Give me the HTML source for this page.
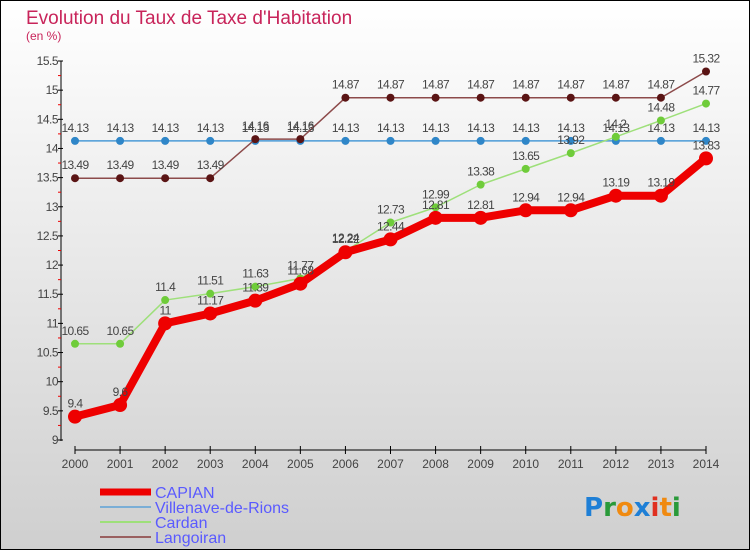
<!DOCTYPE html>
<html><head><meta charset="utf-8"><style>
body{margin:0}
#c{width:750px;height:550px;position:relative;box-sizing:border-box;border:1px solid #000;background:linear-gradient(#ffffff,#cfcfcf);font-family:"Liberation Sans",sans-serif;overflow:hidden}
</style></head><body>
<div id="c">
<svg id="s" width="750" height="550" style="position:absolute;left:-1px;top:-1px">
<text x="26" y="24" font-size="19" fill="#c8245a">Evolution du Taux de Taxe d'Habitation</text>
<text x="26" y="40" font-size="12" fill="#c8245a">(en %)</text>
<g id="axes"></g><g id="series"></g><g id="legend"></g>
<text x="584" y="516" font-size="26" font-weight="bold" font-family="'DejaVu Sans',sans-serif"><tspan fill="#1e7fd6">P</tspan><tspan fill="#2a9a3a">r</tspan><tspan fill="#f08a10">o</tspan><tspan fill="#1e7fd6">x</tspan><tspan fill="#e03020">i</tspan><tspan fill="#f08a10">t</tspan><tspan fill="#2a9a3a">i</tspan></text>
</svg></div>
<script>
const years=[2000,2001,2002,2003,2004,2005,2006,2007,2008,2009,2010,2011,2012,2013,2014];
const capian=[9.4,9.6,11,11.17,11.39,11.68,12.22,12.44,12.81,12.81,12.94,12.94,13.19,13.19,13.83];
const villenave=[14.13,14.13,14.13,14.13,14.13,14.13,14.13,14.13,14.13,14.13,14.13,14.13,14.13,14.13,14.13];
const cardan=[10.65,10.65,11.4,11.51,11.63,11.77,12.24,12.73,12.99,13.38,13.65,13.92,14.2,14.48,14.77];
const langoiran=[13.49,13.49,13.49,13.49,14.16,14.16,14.87,14.87,14.87,14.87,14.87,14.87,14.87,14.87,15.32];
const yTicks=[9,9.5,10,10.5,11,11.5,12,12.5,13,13.5,14,14.5,15,15.5];
const NS="http://www.w3.org/2000/svg";
function X(i){return 75+i*(706-75)/(years.length-1);}
function Y(v){return 440-(v-9)*(379/6.5);}
function mk(p,t,a){const e=document.createElementNS(NS,t);for(const k in a)e.setAttribute(k,a[k]);p.appendChild(e);return e;}
const ax=document.getElementById('axes');
let l=mk(ax,'line',{x1:61,y1:61,x2:61,y2:441,stroke:'#000'});


l=mk(ax,'line',{x1:75,y1:450,x2:706,y2:450,stroke:'#000'});


yTicks.forEach(v=>{
 mk(ax,'line',{x1:58,y1:Y(v),x2:63,y2:Y(v),stroke:'#000'});
 if(v<15.5)mk(ax,'line',{x1:58,y1:Y(v+0.25),x2:61,y2:Y(v+0.25),stroke:'#e00'});
 const t=mk(ax,'text',{x:58,y:Y(v)+4,'font-size':12,fill:'#444','text-anchor':'end','letter-spacing':'-0.5'});t.textContent=String(v);
 
 
});
years.forEach((y,i)=>{
 mk(ax,'line',{x1:X(i),y1:446,x2:X(i),y2:454,stroke:'#000'});
 const t=mk(ax,'text',{x:X(i),y:468,'font-size':12,fill:'#444','text-anchor':'middle'});t.textContent=y;
 
 
});
const sg=document.getElementById('series');
function series(name,vals,col,w,r,dot){
 const g=mk(sg,'g',{});
 
 
 mk(g,'polyline',{points:vals.map((v,i)=>X(i)+','+Y(v)).join(' '),fill:'none',stroke:col,'stroke-width':w,'stroke-linejoin':'round'});
 vals.forEach((v,i)=>{
  const c=mk(g,'circle',{cx:X(i),cy:Y(v),r:r,fill:dot});
  
  
  const t=mk(g,'text',{x:X(i),y:Y(v)-9,'font-size':12,fill:'#444','text-anchor':'middle','letter-spacing':'-0.6'});t.textContent=String(v);
  
  
 });
}
series('villenave',villenave,'#4a9ad6',1.5,4,'#2f86c8');
series('langoiran',langoiran,'#8c4a4a',1.5,4,'#5a1414');
series('cardan',cardan,'#9ee07a',1.5,4,'#6fcc3a');
series('capian',capian,'#ee0000',8,7,'#ee0000');
const lg=document.getElementById('legend');
[['CAPIAN','#ee0000',7],['Villenave-de-Rions','#7aaed6',2],['Cardan','#9ee07a',2],['Langoiran','#9a6060',2]].forEach((d,i)=>{
 const y=492+i*15;
 const ln=mk(lg,'line',{x1:100,y1:y,x2:151,y2:y,stroke:d[1],'stroke-width':d[2]});
 
 
 const t=mk(lg,'text',{x:155,y:y+6,'font-size':16,fill:'#5a5aff'});t.textContent=d[0];
 
 
});
</script>
</body></html>
